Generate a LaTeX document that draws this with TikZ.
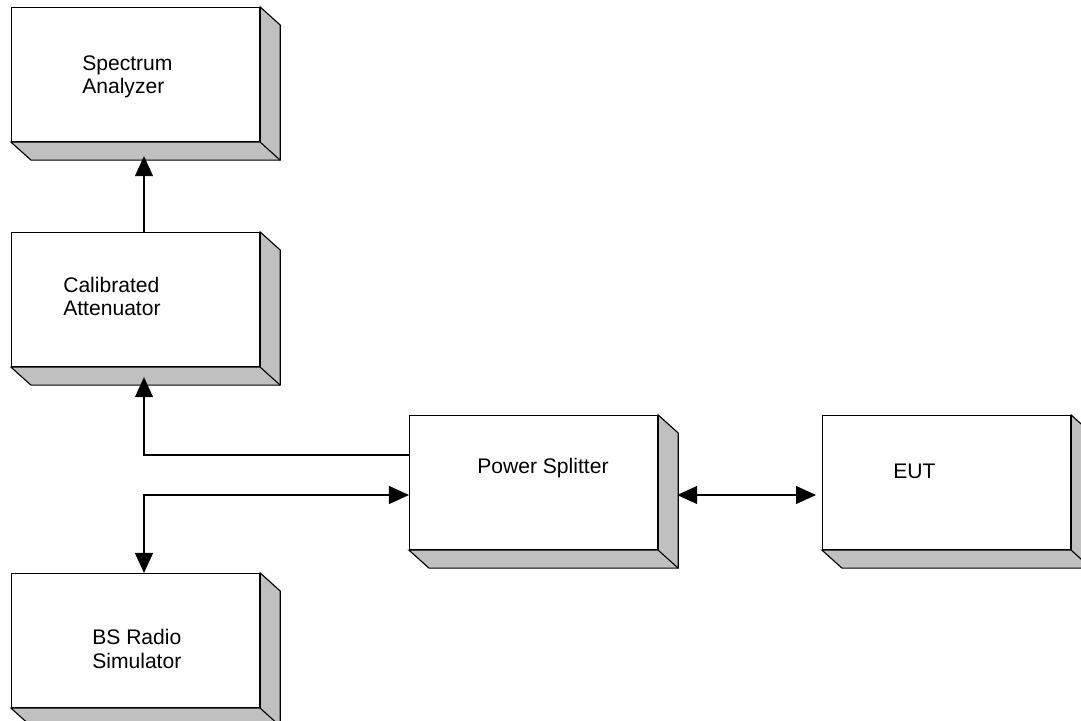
\documentclass[tikz,border=0pt]{standalone}
\usepackage{fontspec}
\setmainfont{Liberation Sans}
\usetikzlibrary{arrows.meta, positioning, calc}

\definecolor{sidegray}{HTML}{C0C0C0}

\tikzset{
    unit/.style={draw, line width=0.8pt, fill=white, anchor=north west, inner sep=0pt,
        minimum width=6.2cm, minimum height=3.35cm},
    caption/.style={font=\fontsize{15}{16.5}\selectfont, align=left, anchor=base west, inner sep=0pt},
    face/.style={draw, line width=0.8pt, fill=sidegray},
    link/.style={line width=0.8pt},
    >={Triangle[length=0.5cm, width=0.45cm]},
}

\begin{document}
\begin{tikzpicture}[x=0.025cm, y=-0.025cm]
    \useasboundingbox (0,0) rectangle (1081,721);

    % Equipment boxes
    \node[unit] (sa) at (11,7) {};
    \node[unit] (ca) at (11,232) {};
    \node[unit] (ps) at (409,415) {};
    \node[unit] (eut) at (822,415) {};
    \node[unit] (bs) at (11,573) {};

    % Side and bottom faces
    \foreach \n in {sa, ca, ps, eut, bs} {
        \path[face] (\n.north east) -- ++(20,18) |- ($(\n.south west)+(20,18)$)
            -- (\n.south west) -- (\n.south east) -- cycle;
        \draw[line width=0.8pt] (\n.south east) -- ++(20,18);
    }

    % Labels (base is the last line)
    \node[caption] (saText) at (82,94) {Spectrum\\Analyzer};
    \node[caption] (caText) at (63,316) {Calibrated\\Attenuator};
    \node[caption] (psText) at (477,474) {Power Splitter};
    \node[caption] (eutText) at (893,479) {EUT};
    \node[caption] (bsText) at (92,668) {BS Radio\\Simulator};

    % Signal paths
    \draw[link, ->] ($(ca.north west)+(133,0)$) -- ($(sa.south west)+(133,14)$);
    \draw[link, ->] ($(ps.north west)+(0,40)$) -| ($(ca.south west)+(133,10)$);
    \draw[link, <->] ($(bs.north west)+(133,0)$) |- ($(ps.north west)+(0,80)$);
    \draw[link, <->] ($(ps.north east)+(19,80)$) -- ($(eut.north west)+(-6,80)$);
\end{tikzpicture}
\end{document}
